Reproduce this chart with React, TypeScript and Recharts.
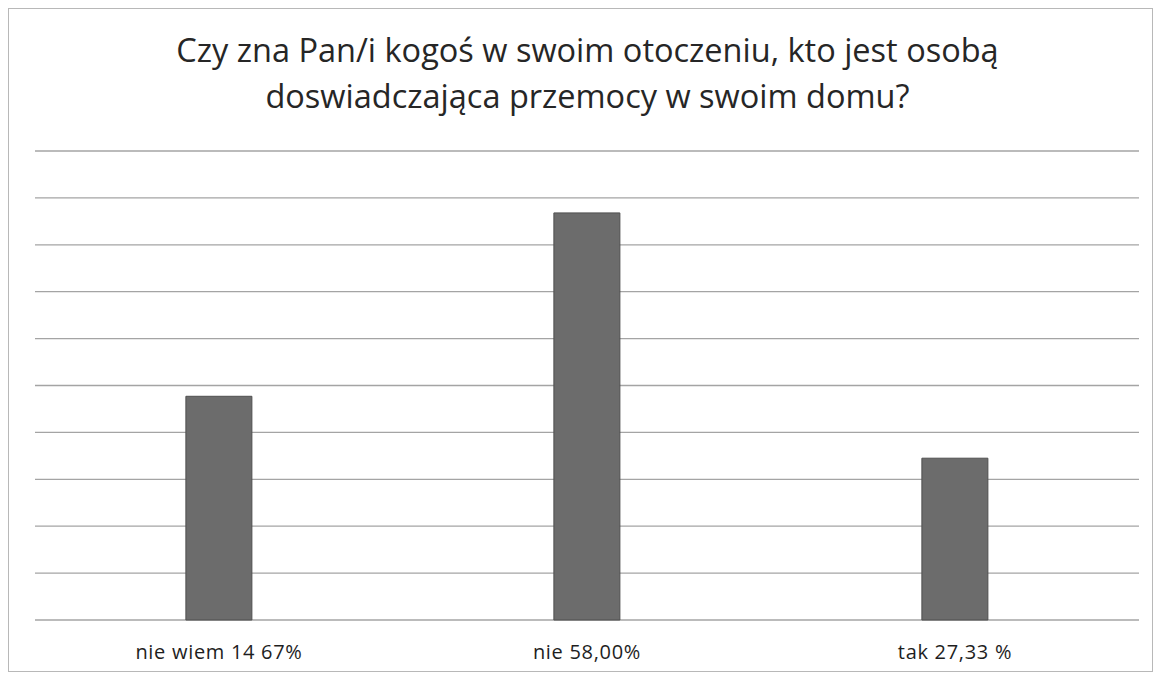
import { Bar, BarChart, CartesianGrid, XAxis, YAxis } from "recharts";

// bar heights (gridline units), labels as printed
const categories = ["nie wiem 14 67%", "nie 58,00%", "tak 27,33 %"];
const values = [4.77, 8.68, 3.45];
const yTicks = [0, 1, 2, 3, 4, 5, 6, 7, 8, 9, 10];

const titleLines = [
  "Czy zna Pan/i kogoś w swoim otoczeniu, kto jest osobą",
  "doswiadczająca przemocy w swoim domu?",
];

const chartData = categories.map((label, index) => ({
  label,
  value: values[index],
}));

const FONT = "'Open Sans', 'DejaVu Sans', sans-serif";

export default function App() {
  return (
    <div
      style={{
        position: "relative",
        width: 1147,
        height: 664,
        background: "#fff",
        fontFamily: FONT,
      }}
    >
      <div
        style={{
          position: "absolute",
          left: -2,
          top: 19,
          width: 1163,
          textAlign: "center",
          fontSize: 32.5,
          lineHeight: "46px",
          color: "#262626",
        }}
      >
        {titleLines.map((line) => (
          <div key={line}>{line}</div>
        ))}
      </div>
      <BarChart
        width={1147}
        height={664}
        data={chartData}
        margin={{ top: 143, right: 16, bottom: 7, left: 27 }}
        barCategoryGap="41%"
      >
        <CartesianGrid vertical={false} stroke="#a4a4a4" strokeWidth={1.3} />
        <XAxis
          dataKey="label"
          axisLine={false}
          tickLine={false}
          height={45}
          tickMargin={19}
          tick={{ fill: "#1e1e1e", fontSize: 20, letterSpacing: 0.7, fontFamily: FONT }}
          interval={0}
        />
        <YAxis hide domain={[0, 10]} ticks={yTicks} />
        <Bar
          dataKey="value"
          fill="#6c6c6c"
          stroke="#4f4f4f"
          strokeWidth={1}
          isAnimationActive={false}
        />
      </BarChart>
      {/* light frame of the scanned chart area */}
      <div
        style={{
          position: "absolute",
          left: 0,
          top: 0,
          width: 1145,
          height: 664,
          border: "1.5px solid #b8b8b8",
          boxSizing: "border-box",
          pointerEvents: "none",
          zIndex: 2,
        }}
      />
    </div>
  );
}
